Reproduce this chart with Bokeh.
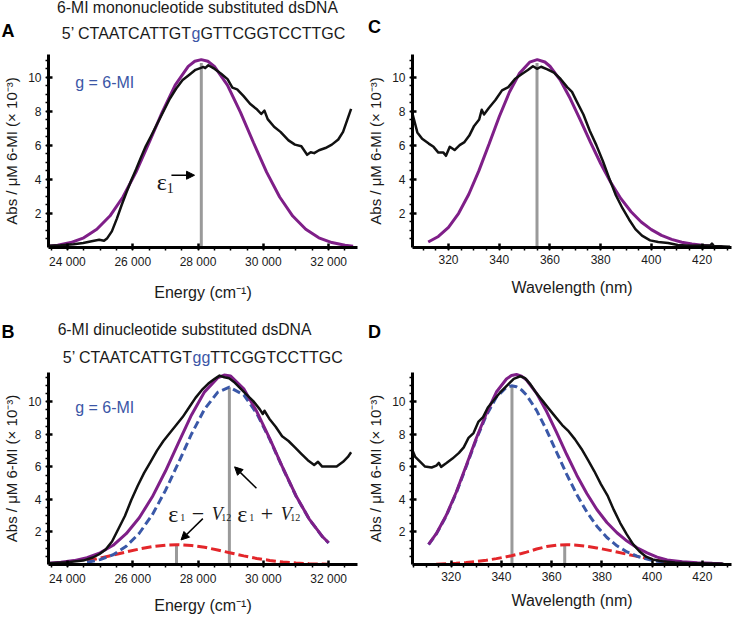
from bokeh.plotting import figure
from bokeh.layouts import column, row
from bokeh.models import Label, Arrow, NormalHead, FixedTicker, Range1d
from bokeh.embed import file_html
from bokeh.resources import INLINE

SANS = "Liberation Sans"
SERIF = "Liberation Serif"
PURPLE = "#7f1f88"
BLUE = "#3a58a8"
RED = "#e3262a"
GRAY = "#9a9a9a"
BLACK = "#111111"
TEXT_BLUE = "#3b56a6"
TEXT = "#1a1a1a"

# ---------------- tick definitions ----------------
energy_ticks = [24000, 26000, 28000, 30000, 32000]
energy_tick_labels = ["24 000", "26 000", "28 000", "30 000", "32 000"]
wl_ticks = [320, 340, 360, 380, 400, 420]
abs_ticks = [2, 4, 6, 8, 10]
energy_minor = list(range(23500, 33000, 500))
wl_minor = list(range(305, 432, 5))
abs_minor = [i * 0.5 for i in range(1, 24)]

# ---------------- panel A : mononucleotide, energy ----------------
a_meas_E = [23421, 23794, 24187, 24482, 24777, 24973, 25121, 25220, 25360, 25514,
            25661, 25809, 25956, 26103, 26251, 26398, 26546, 26742, 26939, 27135,
            27332, 27528, 27725, 27922, 28069, 28167, 28217, 28315, 28511, 28708,
            28904, 29052, 29199, 29396, 29592, 29789, 29936, 30034, 30133, 30329,
            30525, 30771, 30968, 31164, 31341, 31450, 31557, 31705, 31901, 32098,
            32295, 32442, 32560, 32688]
a_meas_abs = [0.10, 0.13, 0.19, 0.27, 0.38, 0.45, 0.40, 0.55, 0.95, 1.70,
              2.50, 3.25, 3.95, 4.60, 5.30, 5.95, 6.50, 7.25, 8.00, 8.75,
              9.35, 9.85, 10.15, 10.45, 10.55, 10.62, 10.55, 10.72, 10.50, 10.22,
              9.90, 9.40, 9.30, 8.90, 8.45, 8.15, 7.85, 8.05, 7.55, 7.10,
              6.80, 6.30, 6.05, 5.95, 5.45, 5.60, 5.55, 5.72, 5.85, 6.05,
              6.35, 6.80, 7.45, 8.15]
a_fit_E = [23300, 23700, 24100, 24500, 24900, 25300, 25700, 26100, 26500, 26900,
           27300, 27700, 27900, 28100, 28300, 28500, 28900, 29300, 29700, 30100,
           30500, 30900, 31300, 31700, 32100, 32500, 32750]
a_fit_abs = [0.06, 0.13, 0.29, 0.57, 1.07, 1.85, 2.97, 4.43, 6.16, 7.95,
             9.55, 10.65, 10.95, 11.05, 10.95, 10.65, 9.55, 7.95, 6.16, 4.43,
             2.97, 1.85, 1.07, 0.57, 0.29, 0.13, 0.08]
a_marker_E = [28100]
a_marker_top = [10.85]

# ---------------- panel B : dinucleotide, energy ----------------
b_meas_E = [23421, 23991, 24482, 24777, 24973, 25170, 25366, 25563, 25760, 25956,
            26153, 26349, 26546, 26742, 26939, 27135, 27332, 27528, 27725, 27922,
            28118, 28315, 28511, 28659, 28806, 28954, 29101, 29297, 29494, 29691,
            29887, 29985, 30034, 30182, 30378, 30575, 30771, 30968, 31164, 31361,
            31557, 31675, 31803, 32049, 32245, 32442, 32589, 32688]
b_meas_abs = [0.08, 0.14, 0.24, 0.43, 0.63, 0.92, 1.41, 2.20, 2.98, 3.96,
              4.84, 5.63, 6.31, 7.00, 7.59, 8.08, 8.57, 9.06, 9.65, 10.24,
              10.73, 11.12, 11.41, 11.61, 11.51, 11.45, 11.22, 10.82, 10.43, 10.04,
              9.55, 9.25, 9.45, 8.96, 8.47, 7.88, 7.59, 7.20, 6.80, 6.41,
              6.12, 6.31, 6.02, 6.02, 6.02, 6.31, 6.61, 6.90]
b_fit_E = [23400, 23800, 24200, 24600, 25000, 25400, 25800, 26200, 26600, 27000,
           27400, 27800, 28200, 28600, 28800, 29000, 29400, 29800, 30200, 30600,
           31000, 31400, 31800, 32000]
b_fit_abs = [0.07, 0.14, 0.24, 0.42, 0.72, 1.18, 1.89, 2.87, 4.16, 5.73,
             7.47, 9.19, 10.61, 11.47, 11.64, 11.58, 10.80, 9.40, 7.72, 5.93,
             4.23, 2.81, 1.74, 1.34]
b_upper_E = [24600, 25000, 25400, 25800, 26200, 26600, 27000, 27400, 27800, 28200,
             28600, 28960, 29400, 29800, 30200, 30600, 31000, 31400, 31800, 32000]
b_upper_abs = [0.14, 0.30, 0.60, 1.12, 1.92, 3.06, 4.54, 6.25, 8.02, 9.55,
               10.58, 10.90, 10.43, 9.28, 7.67, 5.90, 4.21, 2.80, 1.73, 1.32]
b_lower_E = [24600, 25000, 25400, 25800, 26200, 26600, 27000, 27340, 27800, 28200,
             28600, 29000, 29400, 29800, 30200, 30600, 31000, 31400, 31800, 32000]
b_lower_abs = [0.22, 0.40, 0.58, 0.77, 0.95, 1.10, 1.19, 1.22, 1.17, 1.06,
               0.89, 0.71, 0.53, 0.37, 0.25, 0.15, 0.09, 0.05, 0.03, 0.02]
b_marker_E = [27340, 28960]
b_marker_top = [1.22, 10.90]

# ---------------- panel C : mononucleotide, wavelength ----------------
c_meas_nm = [305.4, 306.4, 307.7, 309.6, 312.2, 314.1, 316.0, 318.0, 319.0, 320.5,
             322.4, 324.4, 326.3, 328.2, 330.1, 332.1, 333.1, 334.0, 335.9, 338.5,
             341.1, 343.6, 346.2, 348.8, 351.3, 353.3, 354.9, 356.5, 359.0, 361.6,
             364.2, 366.8, 368.7, 370.6, 373.2, 375.7, 378.3, 380.9, 383.5, 386.0,
             388.6, 391.2, 393.7, 396.3, 399.5, 402.7, 406.6, 410.4, 415.6, 423.3,
             423.9, 424.6, 431.0]
c_meas_abs = [8.10, 7.53, 6.77, 6.39, 6.11, 5.92, 5.58, 5.58, 5.39, 5.92,
              5.73, 6.02, 6.20, 6.58, 7.15, 7.53, 8.10, 7.82, 8.20, 8.67,
              9.24, 9.43, 9.91, 10.19, 10.44, 10.66, 10.51, 10.63, 10.47, 10.28,
              9.91, 9.43, 9.15, 8.58, 7.82, 6.87, 6.02, 5.07, 4.02, 3.07,
              2.31, 1.65, 1.08, 0.70, 0.42, 0.32, 0.27, 0.15, 0.11, 0.13,
              0.23, 0.09, 0.04]
c_fit_nm = [312, 316, 320, 324, 328, 332, 336, 340, 344, 348,
            352, 355, 358, 360, 364, 368, 372, 376, 380, 384,
            388, 392, 396, 400, 404, 408, 412, 416, 420, 424, 428]
c_fit_abs = [0.32, 0.65, 1.19, 2.01, 3.13, 4.52, 6.09, 7.69, 9.13, 10.25,
             10.90, 11.05, 10.91, 10.66, 9.86, 8.76, 7.49, 6.18, 4.94, 3.82,
             2.87, 2.10, 1.50, 1.05, 0.71, 0.48, 0.31, 0.20, 0.13, 0.08, 0.05]
c_marker_nm = [354.9]
c_marker_top = [10.85]

# ---------------- panel D : dinucleotide, wavelength ----------------
d_meas_nm = [304.5, 305.7, 307.7, 309.6, 312.2, 314.1, 315.1, 316.0, 318.0, 320.5,
             323.1, 325.0, 326.9, 328.9, 330.8, 332.7, 334.6, 337.2, 339.8, 342.4,
             344.9, 347.5, 349.4, 351.3, 353.9, 356.5, 359.0, 361.6, 364.2, 366.8,
             369.3, 371.9, 374.5, 377.0, 379.6, 382.2, 384.7, 387.3, 389.9, 392.4,
             395.0, 397.6, 400.2, 404.0, 409.1, 415.6, 428.4]
d_meas_abs = [7.06, 6.61, 6.31, 6.02, 5.96, 6.08, 6.25, 6.00, 6.22, 6.51,
              6.86, 7.20, 7.78, 8.08, 8.76, 9.06, 9.65, 10.14, 10.63, 11.02,
              11.41, 11.57, 11.45, 11.12, 10.53, 10.04, 9.55, 9.06, 8.57, 8.18,
              7.69, 7.10, 6.41, 5.73, 4.94, 4.25, 3.37, 2.55, 1.85, 1.25,
              0.80, 0.48, 0.31, 0.20, 0.12, 0.08, 0.04]
d_fit_nm = [311, 314, 318, 322, 326, 330, 334, 338, 342, 344,
            346, 348, 350, 354, 358, 362, 366, 370, 374, 378,
            382, 386, 390, 394, 398, 402, 406, 412, 418, 424, 428]
d_fit_abs = [1.24, 1.88, 3.01, 4.44, 6.08, 7.76, 9.28, 10.60, 11.40, 11.62,
             11.68, 11.58, 11.34, 10.52, 9.40, 8.10, 6.76, 5.49, 4.36, 3.38,
             2.58, 1.95, 1.44, 1.03, 0.71, 0.45, 0.28, 0.17, 0.11, 0.07, 0.05]
d_upper_nm = [311, 314, 318, 322, 326, 330, 334, 338, 342, 344,
              346, 348, 350, 354, 358, 362, 366, 370, 374, 378,
              382, 386, 390, 394, 398, 402, 406]
d_upper_abs = [1.22, 1.85, 2.97, 4.39, 6.02, 7.69, 9.17, 10.29, 10.89, 10.98,
               10.92, 10.73, 10.41, 9.47, 8.25, 6.89, 5.54, 4.30, 3.23, 2.35,
               1.66, 1.15, 0.77, 0.51, 0.33, 0.20, 0.13]
d_lower_nm = [314, 318, 322, 326, 330, 334, 338, 342, 344, 346,
              348, 350, 354, 358, 362, 366, 370, 374, 378, 382,
              386, 390, 394, 398, 402, 406]
d_lower_abs = [0.02, 0.04, 0.07, 0.12, 0.18, 0.26, 0.36, 0.48, 0.54, 0.61,
               0.68, 0.76, 0.95, 1.10, 1.19, 1.22, 1.19, 1.12, 1.02, 0.90,
               0.77, 0.63, 0.50, 0.37, 0.25, 0.15]
d_marker_nm = [344.2, 365.2]
d_marker_top = [10.98, 1.22]

# ---------------- texts ----------------
title_mono = "6-MI mononucleotide substituted dsDNA"
title_di = "6-MI dinucleotide substituted dsDNA"
seq_head = "5’ CTAATCATTGT"
seq_mono_mid, seq_mono_tail = "g", "GTTCGGTCCTTGC"
seq_di_mid, seq_di_tail = "gg", "TTCGGTCCTTGC"
legend_text = "g = 6-MI"
y_title = "Abs / μM 6-MI (× 10⁻³)"
energy_title = "Energy (cm⁻¹)"
wl_title = "Wavelength (nm)"


def base_fig(w, h, xr, ytop, borders, xticks, xminor, xlabels, xtitle, xstand, ystand):
    bl, br, bt, bb = borders
    p = figure(width=w, height=h, x_range=Range1d(*xr), y_range=Range1d(0, ytop),
               output_backend="svg", toolbar_location=None, title=None,
               min_border_left=bl, min_border_right=br,
               min_border_top=bt, min_border_bottom=bb)
    p.outline_line_color = None
    p.xgrid.visible = False
    p.ygrid.visible = False
    p.xaxis.ticker = FixedTicker(ticks=xticks, minor_ticks=xminor)
    if xlabels:
        p.xaxis.major_label_overrides = {t: l for t, l in zip(xticks, xlabels)}
    p.yaxis.ticker = FixedTicker(ticks=abs_ticks, minor_ticks=abs_minor)
    p.xaxis.axis_label = xtitle
    p.yaxis.axis_label = y_title
    for ax in (p.xaxis[0], p.yaxis[0]):
        ax.axis_line_width = 3
        ax.axis_line_color = "black"
        ax.major_tick_line_width = 2.5
        ax.major_tick_line_color = "black"
        ax.major_tick_in = 4
        ax.major_tick_out = 2
        ax.minor_tick_line_width = 1.5
        ax.minor_tick_line_color = "black"
        ax.minor_tick_in = 0
        ax.minor_tick_out = 3
        ax.major_label_text_font = SANS
        ax.major_label_text_font_size = "12px"
        ax.major_label_text_color = TEXT
        ax.major_label_standoff = 4
        ax.axis_label_text_font = SANS
        ax.axis_label_text_font_style = "normal"
        ax.axis_label_text_color = TEXT
    p.xaxis.axis_label_text_font_size = "16px"
    p.yaxis.axis_label_text_font_size = "15px"
    p.xaxis.axis_label_standoff = xstand
    p.yaxis.axis_label_standoff = ystand
    return p


def header_fig(w, h):
    p = figure(width=w, height=h, x_range=Range1d(0, w), y_range=Range1d(0, h),
               output_backend="svg", toolbar_location=None, title=None,
               x_axis_type=None, y_axis_type=None, min_border=0)
    p.outline_line_color = None
    p.xgrid.visible = False
    p.ygrid.visible = False
    return p


def txt(p, x, y, text, size, color=TEXT, align="left", baseline="middle",
        font=SANS, style="normal", dx=0):
    p.add_layout(Label(x=x, y=y, text=text, text_font=font, text_font_size=size,
                       text_color=color, text_align=align, text_baseline=baseline,
                       text_font_style=style, x_offset=dx))


def sequence(p, x, y, mid, tail):
    txt(p, x, y, seq_head, "16px", align="right")
    txt(p, x, y, mid, "16px", color=TEXT_BLUE)
    txt(p, x, y, tail, "16px", dx=8.9 * len(mid))


def arrow(p, xs, ys, xe, ye):
    p.add_layout(Arrow(end=NormalHead(size=8, fill_color="black", line_color="black", line_width=1),
                       x_start=xs, y_start=ys, x_end=xe, y_end=ye,
                       line_width=1.5, line_color="black"))


def exciton_label(p, x, y, sign):
    txt(p, x, y, "ε", "24px", font=SERIF, baseline="alphabetic")
    txt(p, x, y - 0.2, "1", "10px", font=SERIF, baseline="alphabetic", dx=12)
    txt(p, x, y, sign, "22px", font=SERIF, baseline="alphabetic", dx=23.5)
    txt(p, x, y, "V", "18px", font=SERIF, style="italic", baseline="alphabetic", dx=43.5)
    txt(p, x, y - 0.2, "12", "10px", font=SERIF, baseline="alphabetic", dx=53)


# ---------------- headers ----------------
hA = header_fig(364, 50)
txt(hA, 197, 43, title_mono, "15.7px", align="center")
sequence(hA, 191, 17, seq_mono_mid, seq_mono_tail)
txt(hA, 1, 20, "A", "18px", style="bold", color="black")

hC = header_fig(368, 50)
txt(hC, 3.6, 24, "C", "18px", style="bold", color="black")

hB = header_fig(364, 58)
txt(hB, 184, 39.5, title_di, "15.7px", align="center")
sequence(hB, 192, 11.5, seq_di_mid, seq_di_tail)
txt(hB, 1, 37, "B", "18px", style="bold", color="black")

hD = header_fig(368, 58)
txt(hD, 3.6, 37, "D", "18px", style="bold", color="black")

# ---------------- Panel A ----------------
pA = base_fig(364, 260, (23420, 32884), 11.35, (42, 7, 4, 63),
              energy_ticks, energy_minor, energy_tick_labels, energy_title, 12, 5)
pA.segment(x0=a_marker_E, y0=[0] * len(a_marker_E), x1=a_marker_E, y1=a_marker_top,
           line_color=GRAY, line_width=3)
pA.line(a_fit_E, a_fit_abs, line_color=PURPLE, line_width=3)
pA.line(a_meas_E, a_meas_abs, line_color=BLACK, line_width=2.5, line_join="round")
txt(pA, 24237, 9.7, legend_text, "16px", color=TEXT_BLUE)
txt(pA, 26737, 3.83, "ε", "24px", font=SERIF, baseline="alphabetic")
txt(pA, 26737, 3.50, "1", "14px", font=SERIF, baseline="alphabetic", dx=10)
arrow(pA, 27185, 4.25, 27893, 4.25)

# ---------------- Panel B ----------------
pB = base_fig(364, 248, (23420, 32884), 11.8, (42, 7, 4, 49),
              energy_ticks, energy_minor, energy_tick_labels, energy_title, 8, 5)
pB.segment(x0=b_marker_E, y0=[0] * len(b_marker_E), x1=b_marker_E, y1=b_marker_top,
           line_color=GRAY, line_width=3)
pB.line(b_lower_E, b_lower_abs, line_color=RED, line_width=3, line_dash="10 4")
pB.line(b_upper_E, b_upper_abs, line_color=BLUE, line_width=3, line_dash="8 4")
pB.line(b_fit_E, b_fit_abs, line_color=PURPLE, line_width=3)
pB.line(b_meas_E, b_meas_abs, line_color=BLACK, line_width=2.5, line_join="round")
txt(pB, 24236, 9.65, legend_text, "16px", color=TEXT_BLUE)
exciton_label(pB, 27086, 3.08, "−")
exciton_label(pB, 29199, 3.08, "+")
arrow(pB, 29789, 4.69, 29120, 6.0)
arrow(pB, 28147, 2.82, 27479, 1.51)

# ---------------- Panel C ----------------
pC = base_fig(368, 260, (305.8, 431.6), 11.35, (46, 1, 4, 63),
              wl_ticks, wl_minor, None, wl_title, 12, 5)
pC.segment(x0=c_marker_nm, y0=[0] * len(c_marker_nm), x1=c_marker_nm, y1=c_marker_top,
           line_color=GRAY, line_width=3)
pC.line(c_fit_nm, c_fit_abs, line_color=PURPLE, line_width=3)
pC.line(c_meas_nm, c_meas_abs, line_color=BLACK, line_width=2.5, line_join="round")

# ---------------- Panel D ----------------
pD = base_fig(368, 248, (304.6, 431.6), 11.8, (43, 1, 4, 49),
              wl_ticks, wl_minor, None, wl_title, 8, 5)
pD.segment(x0=d_marker_nm, y0=[0] * len(d_marker_nm), x1=d_marker_nm, y1=d_marker_top,
           line_color=GRAY, line_width=3)
pD.line(d_lower_nm, d_lower_abs, line_color=RED, line_width=3, line_dash="10 4")
pD.line(d_upper_nm, d_upper_abs, line_color=BLUE, line_width=3, line_dash="8 4")
pD.line(d_fit_nm, d_fit_abs, line_color=PURPLE, line_width=3)
pD.line(d_meas_nm, d_meas_abs, line_color=BLACK, line_width=2.5, line_join="round")

layout = column(row(hA, hC), row(pA, pC), row(hB, hD), row(pB, pD))
open("out.html", "w").write(file_html(layout, INLINE))
